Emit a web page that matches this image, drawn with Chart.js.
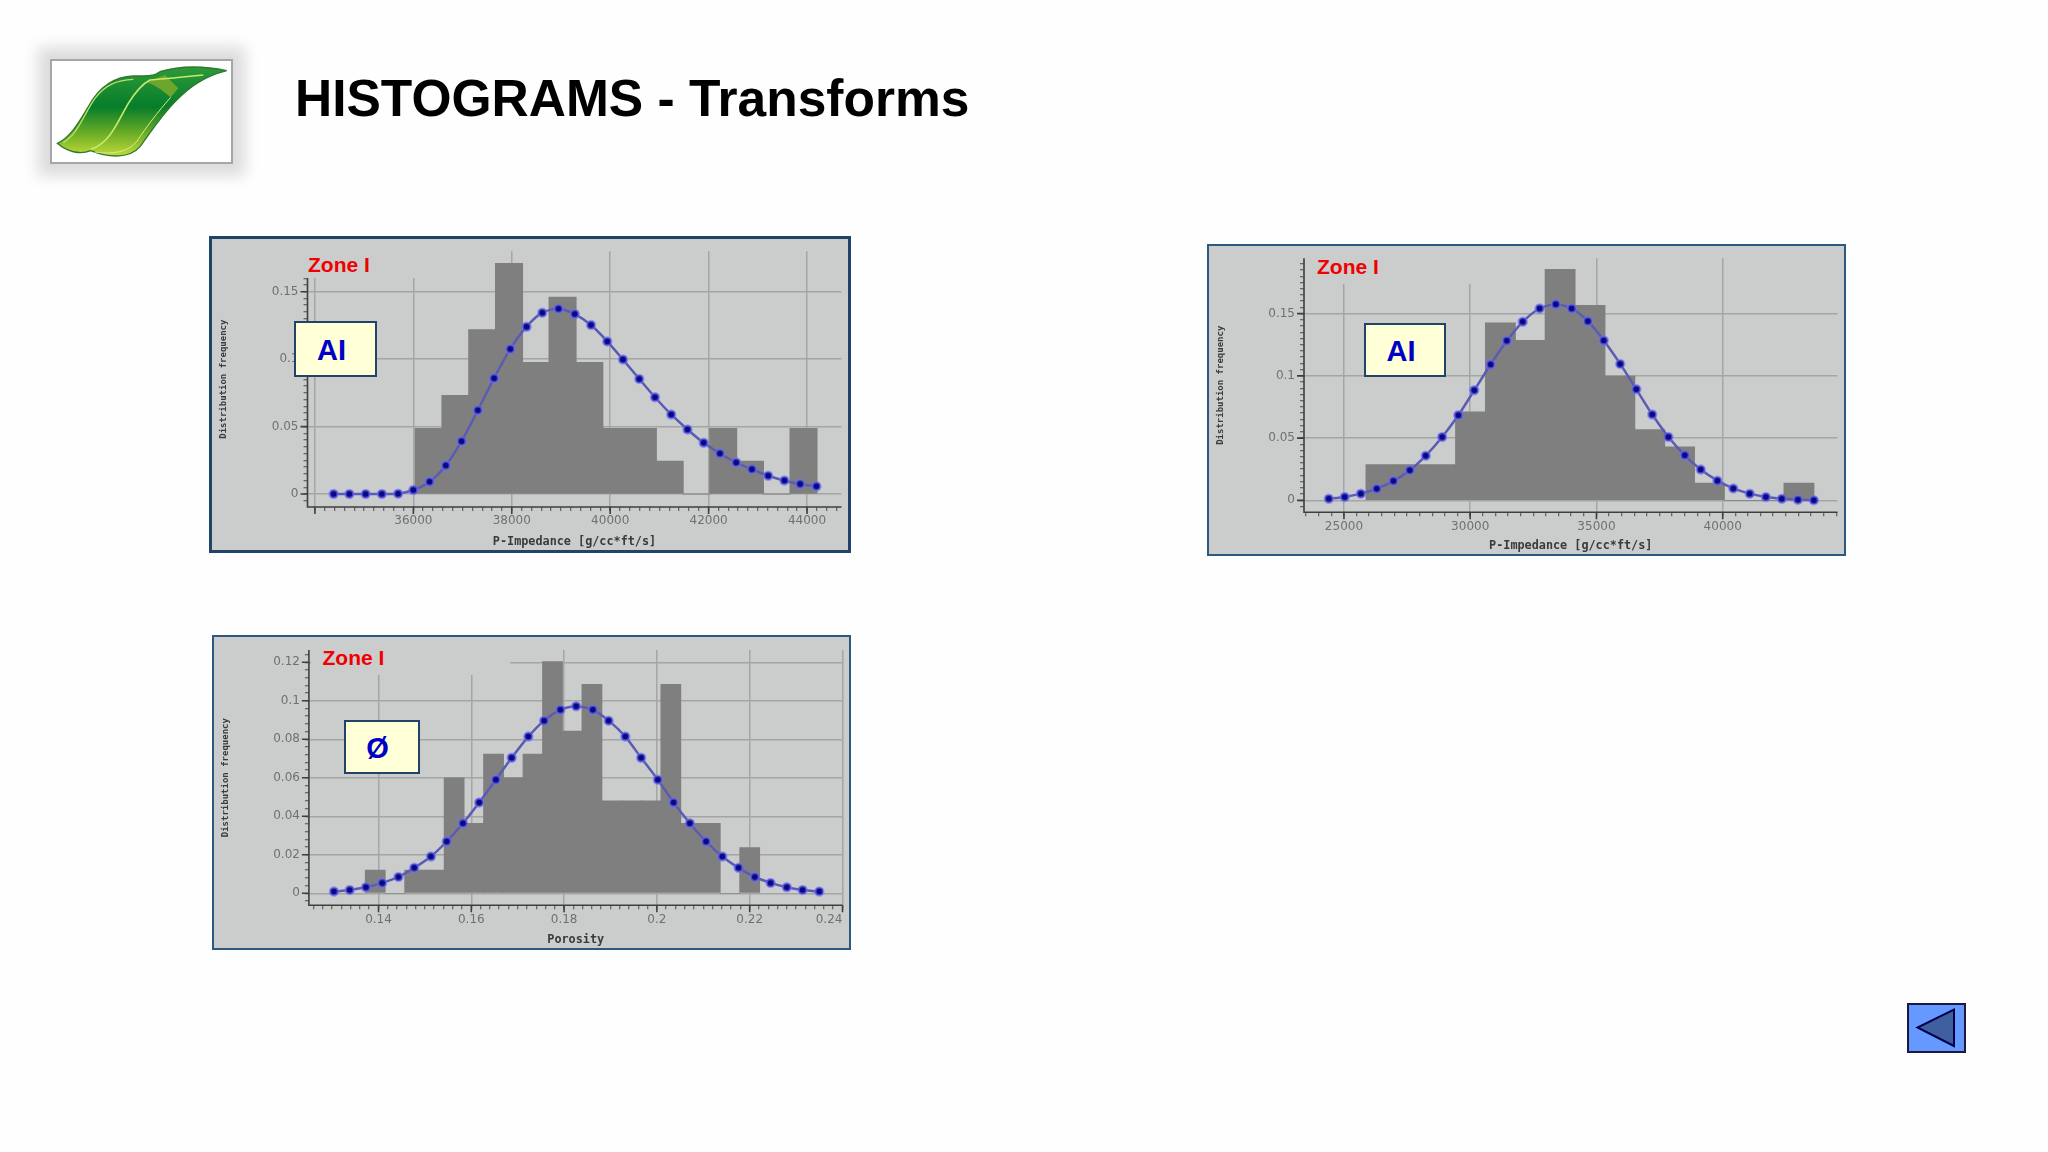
<!DOCTYPE html>
<html>
<head>
<meta charset="utf-8">
<title>HISTOGRAMS - Transforms</title>
<script src="https://cdn.jsdelivr.net/npm/chart.js@4"></script>
<style>
html, body { margin: 0; padding: 0; background: #fefefe; }
body { width: 2048px; height: 1152px; position: relative; overflow: hidden; font-family: "Liberation Sans", Arial, sans-serif; }
h1 { position: absolute; left: 295px; top: 68px; margin: 0; font-size: 51.5px; line-height: 60px; font-weight: bold; color: #000; }
.panel { position: absolute; background: #cbcccc; box-sizing: border-box; }
.panel canvas { position: absolute; left: 0; top: 0; filter: blur(0.5px); }
.patch { position: absolute; background: #cbcccc; }
.zone { position: absolute; color: #f00000; font-weight: bold; font-size: 21px; line-height: 24px; }
.tag { position: absolute; box-sizing: border-box; background: #ffffd8; border: 2px solid #1f4468; color: #0000c4; font-weight: bold; font-size: 29px; display: flex; align-items: center; justify-content: center; padding: 2px 8px 0 0; }
#logo { position: absolute; left: 50px; top: 59px; width: 183px; height: 105px; box-sizing: border-box; background: #fff; border: 2px solid #a6a6a6; box-shadow: 0 0 14px 12px #dcdcdc; }
svg.abs { position: absolute; }
</style>
</head>
<body>
<div id="logo"></div>
<svg class="abs" style="left:0;top:20px" width="300" height="180" viewBox="0 0 900 540">
  <defs>
    <linearGradient id="leafFill" x1="0" y1="0" x2="0" y2="1">
      <stop offset="0" stop-color="#2d9a3a"/>
      <stop offset="0.45" stop-color="#067d2a"/>
      <stop offset="0.75" stop-color="#6cae26"/>
      <stop offset="1" stop-color="#c2d93a"/>
    </linearGradient>
  </defs>
  <path d="M172 370 C215 350 240 300 265 260 C295 205 340 170 400 168 C440 168 460 170 480 155 C530 140 600 135 680 152 C610 170 570 200 530 240 C480 290 450 340 420 380 C390 415 330 415 272 392 C240 405 200 395 172 370 Z" fill="url(#leafFill)" stroke="#2f7a2c" stroke-width="4"/>
  <path d="M440 185 C465 178 480 170 495 165 L535 205 L512 232 C490 212 465 195 440 185 Z" fill="#6ea52c"/>
  <path d="M272 388 C330 370 350 310 385 250 C410 210 430 190 450 180 C510 175 560 170 610 165" fill="none" stroke="#c6ea6a" stroke-width="5"/>
  <path d="M190 368 C235 340 250 285 285 235 C315 195 350 180 400 178" fill="none" stroke="#b5e06a" stroke-width="4"/>
  <path d="M285 396 C340 405 385 395 410 365 C440 320 470 280 512 232" fill="none" stroke="#d8ee84" stroke-width="3"/>
</svg>
<h1>HISTOGRAMS - Transforms</h1>

<div class="panel" style="left:209px;top:236px;width:642px;height:317px;border:3px solid #1f4468">
  <canvas id="chartA" width="636" height="311"></canvas>
</div>
<div class="panel" style="left:1207px;top:244px;width:639px;height:312px;border:2px solid #2f5880">
  <canvas id="chartB" width="635" height="308"></canvas>
</div>
<div class="panel" style="left:211.5px;top:635px;width:639px;height:315px;border:2px solid #2f5880">
  <canvas id="chartC" width="635" height="311"></canvas>
</div>

<div class="patch" style="left:298px;top:239px;width:118px;height:39px"></div>
<div class="patch" style="left:1306px;top:246px;width:197px;height:38px"></div>
<div class="patch" style="left:1303px;top:260px;width:2px;height:24px;background:repeating-linear-gradient(#555 0 2px,transparent 2px 4px)"></div>
<div class="patch" style="left:311px;top:637px;width:199px;height:38px"></div>

<div class="zone" style="left:308px;top:253px">Zone I</div>
<div class="zone" style="left:1317px;top:254.5px">Zone I</div>
<div class="zone" style="left:322.5px;top:646px">Zone I</div>

<div class="tag" style="left:294px;top:321px;width:83px;height:56px">AI</div>
<div class="tag" style="left:1364px;top:323px;width:82px;height:54px">AI</div>
<div class="tag" style="left:343.5px;top:720px;width:76px;height:54px">Ø</div>

<svg class="abs" style="left:1907px;top:1003px" width="59" height="50" viewBox="0 0 59 50">
  <rect x="1" y="1" width="57" height="48" fill="#6699ff" stroke="#1a1a3c" stroke-width="2"/>
  <polygon points="47,6.5 47,43 10.5,24.5" fill="#3f5f9f" stroke="#00004c" stroke-width="2"/>
</svg>

<script>
"use strict";

// Zone I, P-impedance (vänster)
const impedanceABins = [36312, 36856, 37400, 37944, 38488, 39032, 39576, 40120, 40664, 41208, 41752, 42296, 42840, 43384, 43928];
const impedanceAFreq = [0.0488, 0.0732, 0.122, 0.171, 0.0976, 0.146, 0.0976, 0.0488, 0.0488, 0.0244, 0, 0.0488, 0.0244, 0, 0.0488];
const impedanceACurveX = [34380, 34700, 35030, 35360, 35690, 36000, 36330, 36660, 36980, 37310, 37640, 37970, 38300, 38620, 38950, 39280, 39610, 39940, 40260, 40590, 40910, 41240, 41570, 41900, 42230, 42560, 42880, 43210, 43540, 43860, 44190];
const impedanceACurveY = [0, 0, 0, 0, 0.0003, 0.003, 0.0091, 0.0212, 0.0392, 0.0622, 0.0859, 0.1076, 0.1241, 0.1345, 0.1374, 0.1335, 0.1253, 0.1132, 0.0997, 0.0854, 0.0718, 0.059, 0.0479, 0.038, 0.0301, 0.0234, 0.0183, 0.0136, 0.0101, 0.0074, 0.0057];
const impedanceAGridX = [34000, 36000, 38000, 40000, 42000, 44000];
const impedanceALabelsX = [36000, 38000, 40000, 42000, 44000];
const impedanceATicksY = [0, 0.05, 0.1, 0.15];

// Zone I, P-impedance (höger)
const impedanceBBins = [26466, 27649, 28831, 30014, 31196, 32378, 33561, 34743, 35926, 37108, 38290, 39473, 40655, 41837, 43019];
const impedanceBFreq = [0.0287, 0.0287, 0.0287, 0.071, 0.1425, 0.1286, 0.1856, 0.1567, 0.0999, 0.0568, 0.0429, 0.0139, 0, 0, 0.0139];
const impedanceBCurveX = [24400, 25030, 25670, 26300, 26960, 27610, 28240, 28890, 29530, 30160, 30810, 31450, 32080, 32750, 33390, 34020, 34660, 35290, 35940, 36580, 37210, 37850, 38500, 39130, 39790, 40420, 41070, 41710, 42340, 42980, 43610];
const impedanceBCurveY = [0.0013, 0.0027, 0.0054, 0.0094, 0.0155, 0.0241, 0.0359, 0.0509, 0.0683, 0.0884, 0.1091, 0.1281, 0.1434, 0.1541, 0.1576, 0.1541, 0.1439, 0.1284, 0.1096, 0.0892, 0.0689, 0.0509, 0.0362, 0.0247, 0.0158, 0.0096, 0.0054, 0.0027, 0.0013, 0.0005, 0];
const impedanceBGridX = [25000, 30000, 35000, 40000];
const impedanceBLabelsX = [25000, 30000, 35000, 40000];
const impedanceBTicksY = [0, 0.05, 0.1, 0.15];

// Zone I, porositet
const porosityBins = [0.1393, 0.1436, 0.1478, 0.1521, 0.1563, 0.1606, 0.1648, 0.169, 0.1733, 0.1775, 0.1818, 0.186, 0.1903, 0.1945, 0.1987, 0.203, 0.2072, 0.2115, 0.2157, 0.22];
const porosityFreq = [0.012, 0, 0.012, 0.012, 0.06, 0.0363, 0.0723, 0.06, 0.0723, 0.1204, 0.0843, 0.1086, 0.048, 0.048, 0.048, 0.1086, 0.0363, 0.0363, 0, 0.0238];
const porosityCurveX = [0.1304, 0.1338, 0.1373, 0.1408, 0.1443, 0.1477, 0.1513, 0.1547, 0.1582, 0.1617, 0.1653, 0.1687, 0.1723, 0.1757, 0.1792, 0.1826, 0.1862, 0.1896, 0.1932, 0.1966, 0.2002, 0.2036, 0.2071, 0.2106, 0.2141, 0.2176, 0.2211, 0.2245, 0.228, 0.2314, 0.235];
const porosityCurveY = [0.0009, 0.0017, 0.0031, 0.0054, 0.0085, 0.0132, 0.0191, 0.0269, 0.0364, 0.0472, 0.059, 0.0704, 0.0814, 0.0897, 0.0953, 0.0972, 0.0953, 0.0897, 0.0814, 0.0704, 0.059, 0.0472, 0.0364, 0.0269, 0.0191, 0.0132, 0.0085, 0.0054, 0.0031, 0.0017, 0.0009];
const porosityGridX = [0.14, 0.16, 0.18, 0.2, 0.22, 0.24];
const porosityLabelsX = [0.14, 0.16, 0.18, 0.2, 0.22];
const porosityTicksY = [0, 0.02, 0.04, 0.06, 0.08, 0.1, 0.12];

/**
 * Ritar axellinjer och de längre huvudstrecken.
 */
const axisLines = {
    id: "axisLines",
    afterDraw(chart) {
        const {ctx, chartArea: area, scales: {x, y}} = chart;
        ctx.save();
        ctx.strokeStyle = "#3f3f3f";
        ctx.lineWidth = 1.6;
        ctx.beginPath();
        ctx.moveTo(area.left, area.top);
        ctx.lineTo(area.left, area.bottom);
        ctx.lineTo(area.right, area.bottom);
        for (const t of x.ticks) {
            if (t.isMajor) {
                const px = x.getPixelForValue(t.value);
                ctx.moveTo(px, area.bottom);
                ctx.lineTo(px, area.bottom + 7);
            }
        }
        for (const t of y.ticks) {
            if (t.isMajor) {
                const py = y.getPixelForValue(t.value);
                ctx.moveTo(area.left, py);
                ctx.lineTo(area.left - 7, py);
            }
        }
        ctx.stroke();
        ctx.restore();
    }
};

function sameValue(a, b) {
    return Math.abs(a - b) < 1e-7;
}

/**
 * Bygger streck: små streck med jämnt steg plus markering av huvudstrecken.
 * edgeAt är en osynlig extra position för en etikett som står innanför axelns slut.
 */
function buildTicks(first, last, step, major, edgeAt) {
    const ticks = [];
    const count = Math.round((last - first) / step);
    for (let i = 0; i <= count; i++) {
        const value = Math.round((first + i * step) * 1e6) / 1e6;
        ticks.push({value, isMajor: major.some(m => sameValue(m, value))});
    }
    if (edgeAt !== undefined) {
        ticks.push({value: edgeAt, isEdge: true});
        ticks.sort((a, b) => a.value - b.value);
    }
    return ticks;
}

function createHistogram(id, cfg) {
    const axis = (range, grid, labels, fixedSize, horizontal, titleText, edge) => ({
        type: "linear",
        offset: false,
        min: range.min,
        max: range.max,
        afterBuildTicks(scale) { scale.ticks = buildTicks(range.first, range.last, range.step, grid, edge && edge.at); },
        afterFit(scale) {
            if (horizontal) {
                scale.height = fixedSize;
                scale.paddingLeft = 0;
                scale.paddingRight = 0;
            } else {
                scale.width = fixedSize;
            }
        },
        grid: {
            offset: false,
            color: ctx => (ctx.tick && ctx.tick.isMajor) ? "#a3a6a5" : "rgba(0,0,0,0)",
            lineWidth: 1.5,
            tickColor: ctx => (ctx.tick && ctx.tick.isEdge) ? "rgba(0,0,0,0)" : "#4a4a4a",
            tickLength: 4,
            tickWidth: 1
        },
        border: {display: false},
        title: {
            display: true,
            text: titleText,
            color: "#3a3a3a",
            font: {family: "DejaVu Sans Mono", weight: "bold", size: horizontal ? 11.8 : 9},
            padding: horizontal ? {top: 6, bottom: 1.2} : {top: 6, bottom: 0}
        },
        ticks: {
            autoSkip: false,
            maxRotation: 0,
            minRotation: 0,
            color: "#707070",
            font: {family: "DejaVu Sans", size: 12},
            padding: horizontal ? 3 : 5,
            callback(value) {
                if (edge && sameValue(edge.at, value)) {
                    return edge.text;
                }
                return labels.some(m => sameValue(m, value)) ? String(value) : "";
            }
        }
    });

    new Chart(document.getElementById(id), {
        type: "bar",
        data: {
            datasets: [
                {
                    type: "line",
                    order: 1,
                    data: cfg.curveX.map((x, i) => ({x, y: cfg.curveY[i]})),
                    borderColor: "#5b5bb4",
                    borderWidth: 2.5,
                    tension: 0.25,
                    pointRadius: 4,
                    pointBackgroundColor: "#0a0a80",
                    pointBorderColor: "rgba(110,110,255,0.6)",
                    pointBorderWidth: 2.5
                },
                {
                    type: "bar",
                    order: 2,
                    data: cfg.bins.map((x, i) => ({x, y: cfg.freq[i]})),
                    backgroundColor: "#7f7f7f",
                    borderWidth: 0,
                    barThickness: cfg.barWidth
                }
            ]
        },
        options: {
            responsive: false,
            animation: false,
            devicePixelRatio: 1,
            layout: {padding: cfg.padding},
            plugins: {legend: {display: false}, tooltip: {enabled: false}},
            scales: {
                x: axis(cfg.x, cfg.gridX, cfg.labelsX, cfg.bottom, true, cfg.titleX, cfg.edgeLabel),
                y: axis(cfg.y, cfg.ticksY, cfg.ticksY, cfg.left, false, "Distribution frequency")
            }
        },
        plugins: [axisLines]
    });
}

createHistogram("chartA", {
    bins: impedanceABins, freq: impedanceAFreq, curveX: impedanceACurveX, curveY: impedanceACurveY,
    gridX: impedanceAGridX, labelsX: impedanceALabelsX, ticksY: impedanceATicksY,
    titleX: "P-Impedance [g/cc*ft/s]",
    x: {min: 33849, max: 44700, first: 34000, last: 44600, step: 200},
    y: {min: -0.0096, max: 0.18, first: -0.005, last: 0.18, step: 0.005},
    barWidth: 27.4,
    left: 95.5, bottom: 43,
    padding: {left: 0, right: 6, top: 12.3, bottom: 0}
});

createHistogram("chartB", {
    bins: impedanceBBins, freq: impedanceBFreq, curveX: impedanceBCurveX, curveY: impedanceBCurveY,
    gridX: impedanceBGridX, labelsX: impedanceBLabelsX, ticksY: impedanceBTicksY,
    titleX: "P-Impedance [g/cc*ft/s]",
    x: {min: 23418, max: 44546, first: 23500, last: 44500, step: 500},
    y: {min: -0.0096, max: 0.1945, first: -0.005, last: 0.19, step: 0.005},
    barWidth: 30.2,
    left: 95, bottom: 41.7,
    padding: {left: 0, right: 5.7, top: 12, bottom: 0}
});

createHistogram("chartC", {
    bins: porosityBins, freq: porosityFreq, curveX: porosityCurveX, curveY: porosityCurveY,
    gridX: porosityGridX, labelsX: porosityLabelsX, ticksY: porosityTicksY,
    titleX: "Porosity",
    edgeLabel: {at: 0.2371, text: "0.24"},
    x: {min: 0.125, max: 0.24, first: 0.126, last: 0.24, step: 0.002},
    y: {min: -0.00625, max: 0.1264, first: -0.004, last: 0.124, step: 0.004},
    barWidth: 20.1,
    left: 94.9, bottom: 42.7,
    padding: {left: 0, right: 5.4, top: 13, bottom: 0}
});
</script>
</body>
</html>
